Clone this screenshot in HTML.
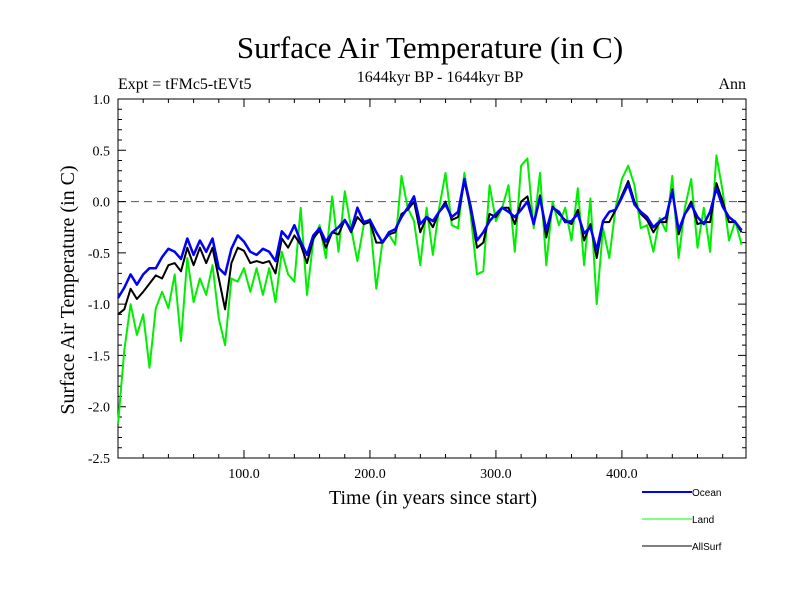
<!DOCTYPE html>
<html><head><meta charset="utf-8"><style>
html,body{margin:0;padding:0;background:#fff}
svg{display:block}
text{font-family:"Liberation Serif",serif;fill:#000}
</style></head><body>
<svg id="chart" width="800" height="600" viewBox="0 0 800 600">
<text x="430" y="58" font-size="31" text-anchor="middle">Surface Air Temperature (in C)</text>
<text x="440" y="82" font-size="16" text-anchor="middle">1644kyr BP - 1644kyr BP</text>
<text x="118" y="89" font-size="16">Expt = tFMc5-tEVt5</text>
<text x="746" y="89" font-size="16" text-anchor="end">Ann</text>
<text transform="translate(74,290) rotate(-90)" font-size="20" text-anchor="middle">Surface Air Temperature (in C)</text>
<text x="433" y="504" font-size="20" text-anchor="middle">Time (in years since start)</text>
<g id="axes"></g>
<g id="series"></g>
<g>
<g><line x1="642" y1="492" x2="692" y2="492" stroke="#0000ff" stroke-width="2"/><text x="692" y="496" font-size="10" style="font-family:'Liberation Sans',sans-serif">Ocean</text></g>
<g><line x1="642" y1="519" x2="692" y2="519" stroke="#00ff00" stroke-width="1"/><text x="692" y="523" font-size="10" style="font-family:'Liberation Sans',sans-serif">Land</text></g>
<g><line x1="642" y1="546" x2="692" y2="546" stroke="#000" stroke-width="1"/><text x="692" y="550" font-size="10" style="font-family:'Liberation Sans',sans-serif">AllSurf</text></g>
</g>
</svg>
<script>
const years = [];
for (let i = 0; i < 100; i++) years.push(i * 5);
const oceanValues = [-0.94,-0.84,-0.71,-0.81,-0.71,-0.65,-0.65,-0.54,-0.46,-0.49,-0.56,-0.36,-0.52,-0.38,-0.49,-0.36,-0.65,-0.71,-0.46,-0.33,-0.39,-0.49,-0.52,-0.46,-0.49,-0.58,-0.29,-0.36,-0.23,-0.39,-0.52,-0.33,-0.26,-0.39,-0.3,-0.25,-0.18,-0.28,-0.06,-0.2,-0.18,-0.3,-0.4,-0.3,-0.27,-0.15,-0.06,0.05,-0.22,-0.15,-0.19,-0.1,-0.03,-0.15,-0.1,0.22,-0.05,-0.38,-0.3,-0.19,-0.12,-0.06,-0.1,-0.15,-0.08,0.0,-0.22,0.04,-0.28,-0.06,-0.1,-0.2,-0.19,-0.12,-0.31,-0.25,-0.47,-0.19,-0.1,-0.08,0.04,0.17,-0.03,-0.1,-0.15,-0.25,-0.19,-0.15,0.1,-0.28,-0.12,-0.03,-0.15,-0.22,-0.1,0.13,-0.05,-0.15,-0.2,-0.28];
const landValues = [-2.17,-1.45,-1.0,-1.3,-1.1,-1.62,-1.04,-0.88,-1.04,-0.71,-1.36,-0.55,-0.98,-0.75,-0.91,-0.62,-1.14,-1.4,-0.75,-0.78,-0.65,-0.88,-0.65,-0.91,-0.65,-0.98,-0.49,-0.71,-0.78,-0.06,-0.91,-0.38,-0.23,-0.55,0.05,-0.49,0.1,-0.26,-0.58,-0.23,-0.17,-0.85,-0.38,-0.32,-0.42,0.25,-0.06,-0.19,-0.62,-0.06,-0.52,-0.06,0.28,-0.23,-0.26,0.28,-0.13,-0.71,-0.68,0.16,-0.19,-0.06,0.16,-0.49,0.35,0.42,-0.26,0.28,-0.62,0.0,-0.23,-0.06,-0.38,0.13,-0.62,0.03,-1.0,-0.26,-0.55,-0.06,0.22,0.35,0.16,-0.26,-0.23,-0.49,-0.16,-0.29,0.25,-0.55,-0.06,0.22,-0.45,-0.06,-0.49,0.45,0.1,-0.38,-0.19,-0.42];
const allSurfValues = [-1.1,-1.05,-0.85,-0.95,-0.88,-0.8,-0.72,-0.75,-0.62,-0.6,-0.68,-0.45,-0.62,-0.45,-0.6,-0.45,-0.75,-1.05,-0.6,-0.45,-0.48,-0.6,-0.58,-0.6,-0.58,-0.7,-0.36,-0.45,-0.33,-0.42,-0.6,-0.36,-0.28,-0.45,-0.3,-0.32,-0.18,-0.3,-0.15,-0.22,-0.2,-0.4,-0.4,-0.32,-0.3,-0.12,-0.08,0.0,-0.3,-0.15,-0.25,-0.1,0.0,-0.18,-0.15,0.2,-0.08,-0.45,-0.4,-0.12,-0.15,-0.06,-0.06,-0.22,0.0,0.05,-0.22,0.06,-0.35,-0.05,-0.12,-0.18,-0.22,-0.08,-0.38,-0.22,-0.55,-0.2,-0.2,-0.08,0.06,0.2,0.0,-0.12,-0.18,-0.3,-0.2,-0.2,0.12,-0.32,-0.12,0.0,-0.22,-0.2,-0.2,0.18,0.0,-0.2,-0.2,-0.3];
const yTickLabels = ["1.0","0.5","0.0","-0.5","-1.0","-1.5","-2.0","-2.5"];
const yTickValues = [1.0,0.5,0.0,-0.5,-1.0,-1.5,-2.0,-2.5];
const xTickLabels = ["100.0","200.0","300.0","400.0"];
const xTickValues = [100,200,300,400];

const L=118,R=746,T=99,B=458,XMIN=0,XMAX=498.5,YMIN=-2.5,YMAX=1.0;
const xs=v=>L+(v-XMIN)/(XMAX-XMIN)*(R-L);
const ys=v=>B-(v-YMIN)/(YMAX-YMIN)*(B-T);
const NS="http://www.w3.org/2000/svg";
function mk(tag,attrs,parent){const e=document.createElementNS(NS,tag);for(const k in attrs)e.setAttribute(k,attrs[k]);parent.appendChild(e);return e;}
const ax=document.getElementById('axes');
const frame=mk('rect',{x:L,y:T,width:R-L,height:B-T,fill:'none',stroke:'#000','stroke-width':1},ax);


const zero=mk('line',{x1:L,x2:R,y1:ys(0),y2:ys(0),stroke:'#555','stroke-dasharray':'8,5','stroke-width':1},ax);


let p='';
for(let v=-25;v<=10;v++){const y=ys(v/10);const len=(v%5===0)?8:4;p+=`M${L},${y}h${len}M${R},${y}h${-len}`;}
for(let v=20;v<=480;v+=20){const x=xs(v);const len=(v%100===0)?8:4;p+=`M${x},${B}v${-len}M${x},${T}v${len}`;}
const tk=mk('path',{d:p,stroke:'#000','stroke-width':1,fill:'none'},ax);


yTickLabels.forEach((t,i)=>{const e=mk('text',{x:110,y:ys(yTickValues[i])+5,'font-size':14,'text-anchor':'end'},ax);e.textContent=t;

});
xTickLabels.forEach((t,i)=>{const e=mk('text',{x:xs(xTickValues[i]),y:478,'font-size':14,'text-anchor':'middle'},ax);e.textContent=t;

});
const sg=document.getElementById('series');
function line(vals,color,w,name){const d=vals.map((v,i)=>(i?'L':'M')+xs(years[i]).toFixed(1)+','+ys(v).toFixed(1)).join('');
const e=mk('path',{d:d,stroke:color,'stroke-width':w,fill:'none','stroke-linejoin':'round'},sg);

}
line(landValues,'#00ee00',2,'land-series');
line(allSurfValues,'#000000',2,'allsurf-series');
line(oceanValues,'#0000ff',2.5,'ocean-series');
</script>
</body></html>
